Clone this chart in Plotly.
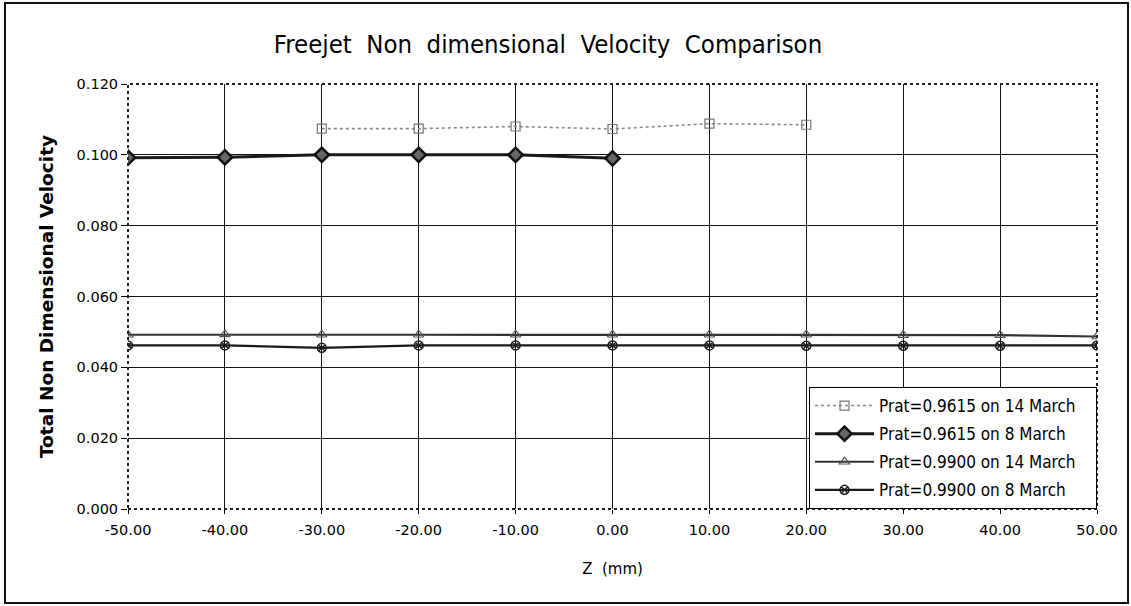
import plotly.graph_objects as go

z_all = [-50, -40, -30, -20, -10, 0, 10, 20, 30, 40, 50]
z_a = [-30, -20, -10, 0, 10, 20]
v_9615_14 = [0.1074, 0.1074, 0.1080, 0.1073, 0.1088, 0.1085]
z_b = [-50, -40, -30, -20, -10, 0]
v_9615_8 = [0.0992, 0.0993, 0.1000, 0.1000, 0.1000, 0.0990]
v_9900_14 = [0.0492, 0.0493, 0.0492, 0.0492, 0.0492, 0.0492, 0.0492, 0.0492, 0.0491, 0.0491, 0.0487]
v_9900_8 = [0.0462, 0.0462, 0.0455, 0.0462, 0.0462, 0.0462, 0.0462, 0.0461, 0.0461, 0.0461, 0.0462]

names = ["Prat=0.9615 on 14 March", "Prat=0.9615 on 8 March",
         "Prat=0.9900 on 14 March", "Prat=0.9900 on 8 March"]
x_ticks = [-50, -40, -30, -20, -10, 0, 10, 20, 30, 40, 50]
x_tick_text = ["-50.00", "-40.00", "-30.00", "-20.00", "-10.00", "0.00",
               "10.00", "20.00", "30.00", "40.00", "50.00"]
y_ticks = [0.0, 0.02, 0.04, 0.06, 0.08, 0.10, 0.12]
y_tick_text = ["0.000", "0.020", "0.040", "0.060", "0.080", "0.100", "0.120"]

W, H = 1131, 606
L, R, T, B = 128, 34, 84, 97
pw, ph = W - L - R, H - T - B

COND = "DejaVu Sans Condensed, Liberation Sans Narrow, DejaVu Sans, sans-serif"
REG = "DejaVu Sans, Verdana, sans-serif"
PAD = "&nbsp;&nbsp;&nbsp;"

fig = go.Figure()
fig.add_trace(go.Scatter(x=z_a, y=v_9615_14, name=names[0] + PAD, mode="lines+markers",
                         legendgroup="a",
                         line=dict(color="#8a8a8a", width=1.6, dash="dot"),
                         marker=dict(symbol="square-open", size=9, color="#777777",
                                     line=dict(width=1.2))))
fig.add_trace(go.Scatter(x=z_b, y=v_9615_8, name=names[1], mode="lines+markers",
                         legendgroup="b",
                         line=dict(color="#1a1a1a", width=3),
                         marker=dict(symbol="diamond", size=11, color="#666666",
                                     line=dict(color="#111111", width=2.5))))
fig.add_trace(go.Scatter(x=z_all, y=v_9900_14, name=names[2], mode="lines+markers",
                         legendgroup="c",
                         line=dict(color="#333333", width=2.2),
                         marker=dict(symbol="triangle-up-open", size=9, color="#555555",
                                     line=dict(width=1.2))))
fig.add_trace(go.Scatter(x=z_all, y=v_9900_8, name=names[3], mode="lines+markers",
                         legendgroup="d",
                         line=dict(color="#1a1a1a", width=2.2),
                         marker=dict(symbol="circle-x-open", size=9, color="#1a1a1a",
                                     line=dict(width=1.5))))

# plot area dotted border
fig.add_shape(type="rect", xref="paper", yref="paper", x0=0, y0=0, x1=1, y1=1,
              line=dict(color="#222222", width=2, dash="dot"), layer="above")
# outer figure frame
fig.add_shape(type="rect", xref="paper", yref="paper",
              x0=(5 - L) / pw, x1=(1128 - L) / pw,
              y0=(H - B - 603) / ph, y1=(H - B - 3) / ph,
              line=dict(color="#111111", width=2))

fig.update_layout(
    width=W, height=H,
    margin=dict(l=L, r=R, t=T, b=B),
    paper_bgcolor="white", plot_bgcolor="white",
    font=dict(family=REG, color="black", size=14.5),
    title=dict(text="Freejet&nbsp;&nbsp;Non&nbsp;&nbsp;dimensional&nbsp;&nbsp;Velocity&nbsp;&nbsp;Comparison",
               x=548 / W, xanchor="center", y=1 - 44 / H, yanchor="middle",
               font=dict(family=COND, size=25.5, color="black")),
    xaxis=dict(range=[-50, 50], tickvals=x_ticks, ticktext=x_tick_text,
               showgrid=True, gridcolor="#111111", gridwidth=1,
               zeroline=False, showline=False, ticks="outside", ticklen=4,
               tickcolor="black", ticklabelstandoff=4,
               title=dict(text="Z&nbsp;&nbsp;(mm)", font=dict(family=REG, size=15), standoff=26),
               tickfont=dict(family=REG, size=14.5)),
    yaxis=dict(range=[0, 0.12], tickvals=y_ticks, ticktext=y_tick_text,
               showgrid=True, gridcolor="#111111", gridwidth=1,
               zeroline=False, showline=False, ticks="outside", ticklen=6,
               tickcolor="black",
               title=dict(text="<b>Total Non Dimensional Velocity</b>",
                          font=dict(family=REG, size=18.5), standoff=18),
               tickfont=dict(family=REG, size=14.5)),
    legend=dict(x=1.0, xanchor="right", y=0.0, yanchor="bottom",
                bgcolor="white", bordercolor="black", borderwidth=1,
                font=dict(family=COND, size=17), itemwidth=59,
                tracegroupgap=3),
    showlegend=True,
)

fig.write_html("out.html", config={"displayModeBar": False},
               post_script="document.body.style.margin='0';")
